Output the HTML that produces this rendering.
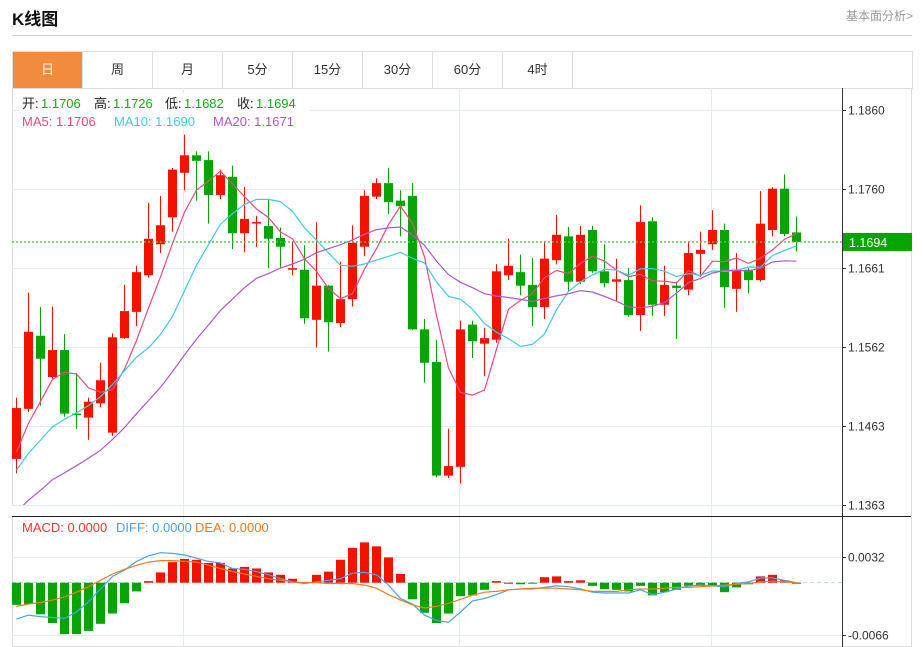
<!DOCTYPE html>
<html><head><meta charset="utf-8">
<style>
body{margin:0;background:#fff;font-family:"Liberation Sans","Noto Sans CJK SC",sans-serif;}
#wrap{position:relative;width:923px;height:647px;overflow:hidden;}
.title{position:absolute;left:12px;top:5px;font-size:17px;font-weight:bold;color:#111;}
.more{position:absolute;right:10px;top:7px;font-size:12px;color:#999;}
.hr{position:absolute;left:12px;top:35px;width:900px;height:1px;background:#d0d0d0;}
.tabs{position:absolute;left:12px;top:51px;width:899px;height:36px;border:1px solid #ddd;border-bottom:1px solid #e3e3e3;}
.tab{position:absolute;top:0;width:69px;height:36px;line-height:36px;text-align:center;font-size:13px;color:#333;border-right:1px solid #ddd;}
.tab.on{background:#f18b3d;color:#fff;}
</style></head><body>
<div id="wrap">
<div class="title">K线图</div>
<div class="more">基本面分析&gt;</div>
<div class="hr"></div>
<div class="tabs">
<div class="tab on" style="left:0">日</div>
<div class="tab" style="left:70px">周</div>
<div class="tab" style="left:140px">月</div>
<div class="tab" style="left:210px">5分</div>
<div class="tab" style="left:280px">15分</div>
<div class="tab" style="left:350px">30分</div>
<div class="tab" style="left:420px">60分</div>
<div class="tab" style="left:490px">4时</div>
</div>
<svg id="chart" width="923" height="647" style="position:absolute;left:0;top:0"></svg>
</div>
<script>
const priorCloses=[1.1290,1.1300,1.1285,1.1310,1.1295,1.1305,1.1320,1.1300,1.1310,1.1305,1.1370,1.1380,1.1390,1.1385,1.1395,1.1400,1.1410,1.1420,1.1434];
const opens=[1.1421,1.1484,1.1576,1.1524,1.1558,1.1478,1.1473,1.1491,1.1454,1.1573,1.1606,1.1652,1.1691,1.1725,1.1781,1.1803,1.1797,1.1753,1.1776,1.1705,1.1718,1.1714,1.1699,1.1659,1.1659,1.1596,1.1639,1.1592,1.1622,1.1688,1.1751,1.1768,1.1746,1.1752,1.1584,1.1543,1.1400,1.1411,1.1590,1.1566,1.1571,1.1652,1.1656,1.1640,1.1612,1.1671,1.1701,1.1644,1.1709,1.1657,1.1644,1.1646,1.1602,1.1720,1.1615,1.1639,1.1634,1.1679,1.1691,1.1709,1.1635,1.1659,1.1646,1.1709,1.1761,1.1706];
const highs=[1.1498,1.1630,1.1612,1.1613,1.1578,1.1529,1.1498,1.1542,1.1579,1.1640,1.1664,1.1743,1.1752,1.1787,1.1829,1.1808,1.1808,1.1785,1.1790,1.1763,1.1727,1.1748,1.1712,1.1695,1.1690,1.1719,1.1640,1.1669,1.1715,1.1759,1.1774,1.1787,1.1759,1.1768,1.1597,1.1571,1.1459,1.1595,1.1595,1.1586,1.1666,1.1698,1.1678,1.1674,1.1695,1.1728,1.1713,1.1714,1.1714,1.1691,1.1673,1.1661,1.1740,1.1725,1.1664,1.1644,1.1695,1.1707,1.1734,1.1717,1.1680,1.1661,1.1758,1.1763,1.1779,1.1726];
const lows=[1.1403,1.1480,1.1488,1.1522,1.1474,1.1459,1.1445,1.1486,1.1450,1.1572,1.1588,1.1649,1.1680,1.1707,1.1759,1.1746,1.1717,1.1748,1.1685,1.1681,1.1688,1.1661,1.1662,1.1652,1.1591,1.1561,1.1556,1.1587,1.1613,1.1676,1.1748,1.1729,1.1701,1.1583,1.1517,1.1398,1.1397,1.1390,1.1548,1.1525,1.1567,1.1646,1.1627,1.1588,1.1597,1.1666,1.1631,1.1641,1.1655,1.1637,1.1620,1.1600,1.1582,1.1601,1.1601,1.1572,1.1627,1.1650,1.1684,1.1611,1.1606,1.1629,1.1644,1.1701,1.1701,1.1682];
const closes=[1.1485,1.1581,1.1547,1.1558,1.1478,1.1476,1.1493,1.1520,1.1574,1.1607,1.1656,1.1698,1.1715,1.1785,1.1803,1.1796,1.1753,1.1778,1.1705,1.1723,1.1719,1.1698,1.1688,1.1661,1.1598,1.1639,1.1593,1.1622,1.1693,1.1752,1.1768,1.1744,1.1739,1.1584,1.1542,1.1400,1.1412,1.1584,1.1569,1.1573,1.1657,1.1664,1.1639,1.1612,1.1673,1.1703,1.1644,1.1703,1.1657,1.1642,1.1647,1.1602,1.1719,1.1615,1.1640,1.1636,1.1680,1.1684,1.1709,1.1637,1.1659,1.1646,1.1717,1.1761,1.1704,1.1694];
const macdHist=[-0.0028,-0.0027,-0.0040,-0.0051,-0.0065,-0.0065,-0.0061,-0.0052,-0.0039,-0.0026,-0.0011,0.0002,0.0013,0.0026,0.0030,0.0029,0.0025,0.0025,0.0018,0.0020,0.0018,0.0013,0.0010,0.0005,0.0001,0.0010,0.0014,0.0029,0.0044,0.0051,0.0046,0.0032,0.0011,-0.0021,-0.0038,-0.0051,-0.0039,-0.0017,-0.0016,-0.0009,0.0002,0.0000,-0.0002,-0.0001,0.0007,0.0008,0.0002,0.0003,-0.0004,-0.0008,-0.0009,-0.0011,-0.0004,-0.0016,-0.0012,-0.0009,-0.0004,-0.0004,-0.0004,-0.0012,-0.0006,-0.0002,0.0008,0.0010,0.0003,0.0000];
const diffVals=[-46,-41,-43,-44,-45,-37,-24,-8,8,16,27,34,38,37,35,31,27,25,18,17,14,10,5,1,-1,1,3,5,12,13,10,-3,-20,-27,-41,-48,-50,-37,-23,-20,-15,-9,-8,-8,-6,-4,-5,-8,-12,-13,-13,-13,-9,-15,-12,-8,-4,-3,-4,-5,-1,1,6,6,3,0];
const deaVals=[-30,-27,-25,-22,-18,-12,-5,3,11,17,22,26,28,28,27,26,22,18,14,11,8,5,3,1,0,0,-1,-1,-1,-3,-7,-15,-22,-28,-32,-30,-26,-21,-16,-12,-11,-9,-8,-7,-7,-7,-8,-9,-11,-11,-11,-9,-8,-8,-7,-6,-6,-5,-4,-3,-2,-1,1,2,1,0];
const priceTicks=["1.1860","1.1760","1.1661","1.1562","1.1463","1.1363"];
const macdTicks=["0.0032","-0.0066"];
const lastPrice=1.1694;

const NS="http://www.w3.org/2000/svg";
const svg=document.getElementById('chart');
function mk(tag,attrs,parent){const e=document.createElementNS(NS,tag);for(const k in attrs)e.setAttribute(k,attrs[k]);(parent||svg).appendChild(e);return e;}
const xOf=i=>16+12*i;
const yP=p=>110+(1.1860-p)*7948;
const yM=v=>582.7-v*7906;
const L=12,R=842;

// frame
let g=mk('rect',{x:12.5,y:88.5,width:899,height:558,fill:'none',stroke:'#ddd'});


// vertical grid
[183,459,711].forEach(x=>{const l=mk('line',{x1:x+.5,x2:x+.5,y1:88,y2:647,stroke:'#e3eaf0'});

});
// price ticks
priceTicks.forEach(t=>{const y=Math.round(yP(parseFloat(t)))+.5;
const l=mk('line',{x1:L,x2:R,y1:y,y2:y,stroke:'#e3eaf0'});


mk('line',{x1:R,x2:R+4,y1:y,y2:y,stroke:'#333'});
const tx=mk('text',{x:848,y:y+4,'font-size':12,fill:'#333'});tx.textContent=t;

});
// macd ticks
macdTicks.forEach(t=>{const y=Math.round(yM(parseFloat(t)))+.5;
const l=mk('line',{x1:L,x2:R,y1:y,y2:y,stroke:'#e3eaf0'});


mk('line',{x1:R,x2:R+4,y1:y,y2:y,stroke:'#333'});
const tx=mk('text',{x:848,y:y+4,'font-size':12,fill:'#333'});tx.textContent=t;

});
// axis lines
mk('line',{x1:R+.5,x2:R+.5,y1:88,y2:647,stroke:'#333'});
let sep=mk('line',{x1:12,x2:911,y1:516.5,y2:516.5,stroke:'#222'});


// zero line macd
mk('line',{x1:L,x2:R,y1:582.5,y2:582.5,stroke:'#b8dcf0','stroke-dasharray':'4,3'});

// candles
closes.forEach((c,i)=>{const o=opens[i],h=highs[i],lo=lows[i];const up=c>=o;const col=up?'#f01400':'#07a307';
const x=xOf(i);const gg=mk('g',{});


mk('line',{x1:x+.5,x2:x+.5,y1:yP(h),y2:yP(lo),stroke:col},gg);
const top=yP(Math.max(o,c)),bot=yP(Math.min(o,c));
mk('rect',{x:x-4,y:top,width:9,height:Math.max(1.5,bot-top),fill:col},gg);});

// MAs
const all=priorCloses.concat(closes);
function ma(n){return closes.map((c,i)=>{const j=i+priorCloses.length;let s=0;for(let k=j-n+1;k<=j;k++)s+=all[k];return s/n;});}
[[5,'#ec4a80','ma5-line'],[10,'#3fcbe2','ma10-line'],[20,'#b058c8','ma20-line']].forEach(([n,col,name])=>{
const v=ma(n);const p=mk('polyline',{points:v.map((m,i)=>xOf(i)+.5+','+yP(m).toFixed(1)).join(' '),fill:'none',stroke:col,'stroke-width':1.2});

});

// clip main area
// last price line
const yl=yP(lastPrice);
let dl=mk('line',{x1:L,x2:R,y1:yl,y2:yl,stroke:'#4cc44c','stroke-dasharray':'2,2','stroke-width':1.3});


mk('rect',{x:843,y:yl-9,width:69,height:18,fill:'#09a400'});
let lt=mk('text',{x:849,y:yl+5,'font-size':12.5,fill:'#fff'});lt.textContent=lastPrice.toFixed(4);



// MACD histogram
macdHist.forEach((v,i)=>{const x=xOf(i);const y0=yM(0),y1=yM(v);
const r=mk('rect',{x:x-4,y:Math.min(y0,y1),width:9,height:Math.max(1,Math.abs(y1-y0)),fill:v>=0?'#f01400':'#07a307'});

});
[[diffVals,'#4aa3ef','diff-line'],[deaVals,'#f57a1b','dea-line']].forEach(([arr,col,name])=>{
const p=mk('polyline',{points:arr.map((v,i)=>xOf(i)+.5+','+yM(v/10000).toFixed(1)).join(' '),fill:'none',stroke:col,'stroke-width':1.2});

});

// clip MA overflow below main panel
let cover=mk('rect',{x:12,y:506,width:829,height:10,fill:'#fff'});


mk('line',{x1:12,x2:911,y1:516.5,y2:516.5,stroke:'#222'});
mk('line',{x1:L,x2:R,y1:505.5,y2:505.5,stroke:'#e3eaf0'});
mk('line',{x1:183.5,x2:183.5,y1:505,y2:516,stroke:'#e3eaf0'});
mk('line',{x1:459.5,x2:459.5,y1:505,y2:516,stroke:'#e3eaf0'});
mk('line',{x1:711.5,x2:711.5,y1:505,y2:516,stroke:'#e3eaf0'});

// info text
function txt(x,y,s,col,name){const t=mk('text',{x:x,y:y,'font-size':13,fill:col});t.textContent=s;

}
let bg=mk('rect',{x:20,y:93,width:290,height:36,fill:'#fff','fill-opacity':0.85});
txt(22,108,'开:','#222','open-label');txt(41,108,'1.1706','#16a816','open-value');
txt(94,108,'高:','#222','high-label');txt(113,108,'1.1726','#16a816','high-value');
txt(165,108,'低:','#222','low-label');txt(184,108,'1.1682','#16a816','low-value');
txt(237,108,'收:','#222','close-label');txt(256,108,'1.1694','#16a816','close-value');
txt(22,126,'MA5: 1.1706','#ec4a80','ma5-legend');
txt(114,126,'MA10: 1.1690','#3fcbe2','ma10-legend');
txt(213,126,'MA20: 1.1671','#b058c8','ma20-legend');
txt(22,532,'MACD: 0.0000','#e8382c','macd-legend');
txt(116,532,'DIFF: 0.0000','#4aa3ef','diff-legend');
txt(195,532,'DEA: 0.0000','#f57a1b','dea-legend');
</script>
</body></html>
